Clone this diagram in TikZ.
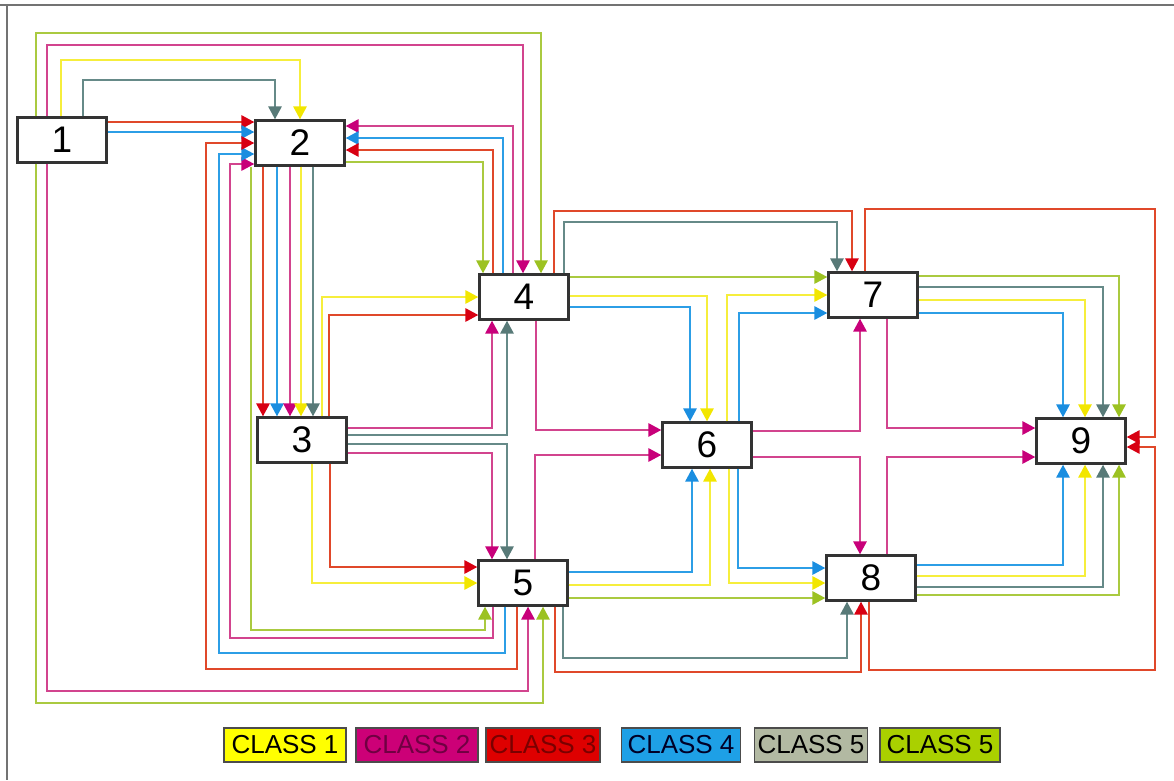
\documentclass[tikz,border=0pt]{standalone}
\usepackage{fontspec}
\setmainfont{Liberation Sans}
\usetikzlibrary{arrows.meta}

\definecolor{yelLine}{HTML}{F6EE3C}
\definecolor{yelTip}{HTML}{F2E600}
\definecolor{magLine}{HTML}{D2448E}
\definecolor{magTip}{HTML}{C8007A}
\definecolor{redLine}{HTML}{E0482A}
\definecolor{redTip}{HTML}{D80012}
\definecolor{bluLine}{HTML}{2C9EE6}
\definecolor{bluTip}{HTML}{1A8EE0}
\definecolor{grayLine}{HTML}{668A88}
\definecolor{grayTip}{HTML}{587A78}
\definecolor{lgrLine}{HTML}{AACA40}
\definecolor{lgrTip}{HTML}{9CC222}
\definecolor{legYel}{HTML}{FFFF00}
\definecolor{legMag}{HTML}{CC0077}
\definecolor{legRed}{HTML}{DE0000}
\definecolor{legBlu}{HTML}{1EA0E6}
\definecolor{legGray}{HTML}{B2B9A2}
\definecolor{legLgr}{HTML}{AAD000}

\tikzset{
    headcol/.style={-{Triangle[width=13pt,length=13pt,color=#1]}},
    flow/.style={line width=2.8pt},
    cone/.style={flow, draw=yelLine, headcol=yelTip},
    ctwo/.style={flow, draw=magLine, headcol=magTip},
    cthree/.style={flow, draw=redLine, headcol=redTip},
    cfour/.style={flow, draw=bluLine, headcol=bluTip},
    cfive/.style={flow, draw=grayLine, headcol=grayTip},
    csix/.style={flow, draw=lgrLine, headcol=lgrTip},
}

\begin{document}
\begin{tikzpicture}[x=1pt, y=-1pt,
    box/.style={draw=black!80, line width=2.2pt, fill=white, minimum width=89pt,
        minimum height=45pt, inner sep=0pt, font=\fontsize{37}{37}\selectfont},
    legend/.style={draw=black!70, line width=1.5pt, minimum width=#1,
        minimum height=34pt, inner sep=0pt, font=\fontsize{26}{26}\selectfont}]
    \useasboundingbox (0,0) rectangle (1174,780);
    % Frame
    \draw[black!55, line width=1.5pt] (0,5) -- (1174,5);
    \draw[black!55, line width=1.5pt] (7,5) -- (7,780);

    % Nodes
    \node[box] (n1) at (62,140) {1};
    \node[box] (n2) at (300,143) {2};
    \node[box] (n3) at (302,440) {3};
    \node[box] (n4) at (524,297) {4};
    \node[box] (n5) at (523,583) {5};
    \node[box] (n6) at (707,445) {6};
    \node[box] (n7) at (873,295) {7};
    \node[box] (n8) at (871,578) {8};
    \node[box] (n9) at (1081,441) {9};

    % From 1
    \draw[cfive] (n1.north -| 83,0) -- (83,80) -| (n2.north -| 275,0);
    \draw[cone] (n1.north -| 61,0) -- (61,60) -| (n2.north -| 300,0);
    \draw[ctwo] (n1.north -| 47,0) -- (47,45) -| (n4.north -| 523,0);
    \draw[csix] (n1.north -| 36,0) -- (36,33) -| (n4.north -| 541,0);
    \draw[ctwo] (n1.south -| 47,0) -- (47,691) -| (n5.south -| 528,0);
    \draw[csix] (n1.south -| 36,0) -- (36,703) -| (n5.south -| 543,0);
    \draw[cthree] (n1.east |- 0,122) -- (n2.west |- 0,122);
    \draw[cfour] (n1.east |- 0,132) -- (n2.west |- 0,132);

    % From 2
    \foreach \x/\c in {263/cthree, 277/cfour, 290/ctwo, 301/cone, 313/cfive} {
        \draw[\c] (n2.south -| \x,0) -- (n3.north -| \x,0);
    }
    \draw[csix] (n2.south -| 251,0) -- (251,630) -| (n5.south -| 485,0);
    \draw[csix] (n2.east |- 0,162) -| (n4.north -| 483,0);

    % Back to 2
    \draw[ctwo] (n4.north -| 513,0) |- (n2.east |- 0,126);
    \draw[cfour] (n4.north -| 503,0) |- (n2.east |- 0,138);
    \draw[cthree] (n4.north -| 493,0) |- (n2.east |- 0,150);
    \draw[ctwo] (n5.south -| 493,0) -- (493,638) -| (230,164) -- (n2.west |- 0,164);
    \draw[cfour] (n5.south -| 505,0) -- (505,653) -| (219,154) -- (n2.west |- 0,154);
    \draw[cthree] (n5.south -| 517,0) -- (517,669) -| (206,143) -- (n2.west |- 0,143);

    % From 3
    \draw[cone] (n3.north -| 322,0) |- (n4.west |- 0,297);
    \draw[cthree] (n3.north -| 329,0) |- (n4.west |- 0,315);
    \draw[ctwo] (n3.east |- 0,428) -| (n4.south -| 492,0);
    \draw[cfive] (n3.east |- 0,435) -| (n4.south -| 507,0);
    \draw[cfive] (n3.east |- 0,444) -| (n5.north -| 507,0);
    \draw[ctwo] (n3.east |- 0,453) -| (n5.north -| 492,0);
    \draw[cthree] (n3.south -| 330,0) |- (n5.west |- 0,567);
    \draw[cone] (n3.south -| 312,0) |- (n5.west |- 0,583);

    % From 4
    \draw[cthree] (n4.north -| 554,0) -- (554,211) -| (n7.north -| 852,0);
    \draw[cfive] (n4.north -| 564,0) -- (564,222) -| (n7.north -| 837,0);
    \draw[csix] (n4.east |- 0,277) -- (n7.west |- 0,277);
    \draw[cone] (n4.east |- 0,296) -| (n6.north -| 707,0);
    \draw[cfour] (n4.east |- 0,307) -| (n6.north -| 690,0);
    \draw[ctwo] (n4.south -| 536,0) |- (n6.west |- 0,430);

    % From 5
    \draw[ctwo] (n5.north -| 535,0) |- (n6.west |- 0,455);
    \draw[cfour] (n5.east |- 0,572) -| (n6.south -| 692,0);
    \draw[cone] (n5.east |- 0,585) -| (n6.south -| 710,0);
    \draw[csix] (n5.east |- 0,598) -- (n8.west |- 0,598);
    \draw[cfive] (n5.south -| 563,0) -- (563,658) -| (n8.south -| 847,0);
    \draw[cthree] (n5.south -| 555,0) -- (555,672) -| (n8.south -| 861,0);

    % From 6
    \draw[cone] (n6.north -| 727,0) |- (n7.west |- 0,295);
    \draw[cfour] (n6.north -| 739,0) |- (n7.west |- 0,313);
    \draw[cone] (n6.south -| 729,0) |- (n8.west |- 0,583);
    \draw[cfour] (n6.south -| 738,0) |- (n8.west |- 0,568);
    \draw[ctwo] (n6.east |- 0,431) -| (n7.south -| 860,0);
    \draw[ctwo] (n6.east |- 0,457) -| (n8.north -| 860,0);

    % From 7 and 8 to 9
    \draw[ctwo] (n7.south -| 887,0) |- (n9.west |- 0,428);
    \draw[ctwo] (n8.north -| 887,0) |- (n9.west |- 0,457);
    \foreach \y/\x/\c in {276/1119/csix, 287/1103/cfive, 300/1085/cone, 313/1063/cfour} {
        \draw[\c] (n7.east |- 0,\y) -| (n9.north -| \x,0);
    }
    \foreach \y/\x/\c in {565/1063/cfour, 576/1085/cone, 587/1103/cfive, 595/1119/csix} {
        \draw[\c] (n8.east |- 0,\y) -| (n9.south -| \x,0);
    }
    \draw[cthree] (n7.north -| 865,0) -- (865,209) -| (1155,437) -- (n9.east |- 0,437);
    \draw[cthree] (n8.south -| 869,0) -- (869,670) -| (1155,447) -- (n9.east |- 0,447);

    % Legend
    \node[legend=122pt, fill=legYel] (leg1) at (285,745) {CLASS 1};
    \node[legend=122pt, fill=legMag, text=legMag!55!black] (leg2) at (417,745) {CLASS 2};
    \node[legend=114pt, fill=legRed, text=legRed!55!black] (leg3) at (543,745) {CLASS 3};
    \node[legend=119pt, fill=legBlu, text=black!85!blue] (leg4) at (681,745) {CLASS 4};
    \node[legend=113pt, fill=legGray] (leg5) at (811,745) {CLASS 5};
    \node[legend=120pt, fill=legLgr] (leg6) at (940,745) {CLASS 5};
\end{tikzpicture}
\end{document}
